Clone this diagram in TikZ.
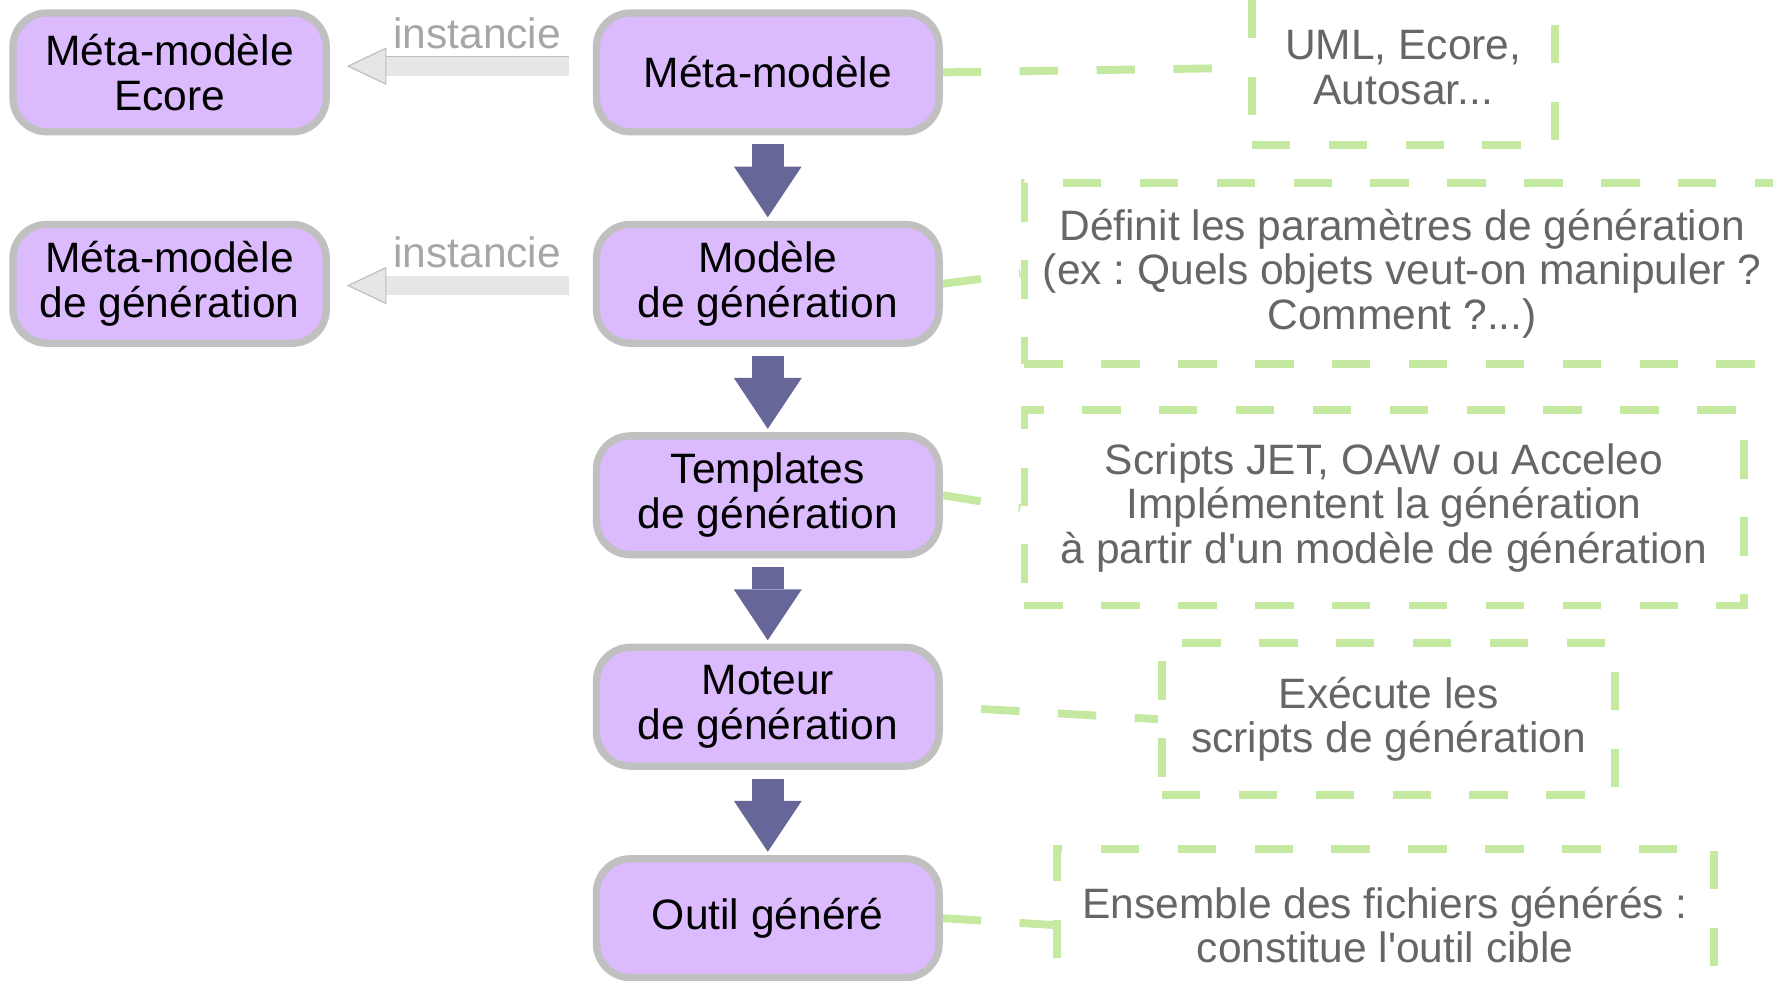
\documentclass[tikz,border=0pt]{standalone}
\usepackage{fontspec}
\setmainfont{Liberation Sans}[Ligatures=TeXOff]
\usetikzlibrary{arrows.meta}
\definecolor{boxfill}{HTML}{DBBAFE}
\definecolor{boxline}{HTML}{C0C0C0}
\definecolor{flowblue}{HTML}{666699}
\definecolor{notegreen}{HTML}{C6E9A2}
\definecolor{notetext}{HTML}{666666}
\definecolor{instfill}{HTML}{E6E6E6}
\definecolor{instline}{HTML}{BDBDBD}
\definecolor{insttext}{HTML}{A6A6A6}
\frenchspacing
\begin{document}
\begin{tikzpicture}[x=0.1mm,y=-0.1mm,font=\fontsize{10.7}{11.25}\selectfont,
  stage/.style={draw=boxline,fill=boxfill,line width=0.65mm,rounded corners=3mm,align=center,inner sep=0pt,minimum width=30.3mm,minimum height=10.5mm},
  meta/.style={stage,minimum width=27.7mm},
  note/.style={draw=notegreen,line width=0.7mm,dash pattern=on 3.4mm off 3.4mm,text=notetext,align=center,inner sep=0pt},
  leader/.style={notegreen,line width=0.7mm,dash pattern=on 3.4mm off 3.4mm},
  flow/.style={flowblue,line width=2.8mm,-{Triangle[length=4.5mm,width=6mm,line width=0pt]},shorten <=0.8mm,shorten >=0.3mm},
  instedge/.style={instline,line width=1.76mm,shorten <=2.1mm,shorten >=3.3mm},
  inst/.style={instfill,line width=1.7mm,shorten <=2.1mm,shorten >=1.5mm,-{Triangle[length=3.5mm,width=3.3mm,fill=instfill,color=instline,line width=0.1mm]}}]
\useasboundingbox (0,0) rectangle (1568,867);
\node[meta] (e1) at (150,64) {Méta-modèle\\Ecore};
\node[meta] (e2) at (150,251) {Méta-modèle\\de génération};
\node[stage] (m1) at (679,64) {Méta-modèle};
\node[stage] (m2) at (679,251) {Modèle\\de génération};
\node[stage] (m3) at (679,438) {Templates\\de génération};
\node[stage] (m4) at (679,625) {Moteur\\de génération};
\node[stage] (m5) at (679,812) {Outil généré};
\node[note,minimum width=26.8mm,minimum height=13.6mm] (n1) at (1241,60) {UML, Ecore,\\Autosar...};
\node[note,minimum width=66.8mm,minimum height=16mm] (n2) at (1240,242) {Définit les paramètres de génération\\(ex : Quels objets veut-on manipuler ?\\Comment ?...)};
\node[note,minimum width=63.6mm,minimum height=17.3mm] (n3) at (1224,449) {Scripts JET, OAW ou Acceleo\\Implémentent la génération\\à partir d'un modèle de génération};
\node[note,minimum width=40.1mm,minimum height=13.4mm] (n4) at (1228,636) {Exécute les\\scripts de génération};
\node[note,minimum width=58.1mm,minimum height=13.5mm] (n5) at (1225,818) {Ensemble des fichiers générés :\\constitue l'outil cible};
\draw[flow] (m1) -- (m2);
\draw[flow] (m2) -- (m3);
\draw[flow] (m3) -- (m4);
\draw[flow] (m4) -- (m5);
\draw[instedge] ([yshift=0.55mm]m1.west) -- ([yshift=0.55mm]e1.east);
\draw[inst] ([yshift=0.55mm]m1.west) -- ([yshift=0.55mm]e1.east) node[pos=0.44,above=-0.5mm,text=insttext] {instancie};
\draw[instedge] ([yshift=-0.15mm]m2.west) -- ([yshift=-0.15mm]e2.east);
\draw[inst] ([yshift=-0.15mm]m2.west) -- ([yshift=-0.15mm]e2.east) node[pos=0.44,above=-0.5mm,text=insttext] {instancie};
\draw[leader] (m1.east) -- (n1.west);
\draw[leader] (m2.east) -- (n2.west);
\draw[leader] (m3.east) -- (n3.west);
\draw[leader,dash phase=3.4mm] (m4.east) -- (n4.west);
\draw[leader] (m5.east) -- (n5.west);
\end{tikzpicture}
\end{document}
